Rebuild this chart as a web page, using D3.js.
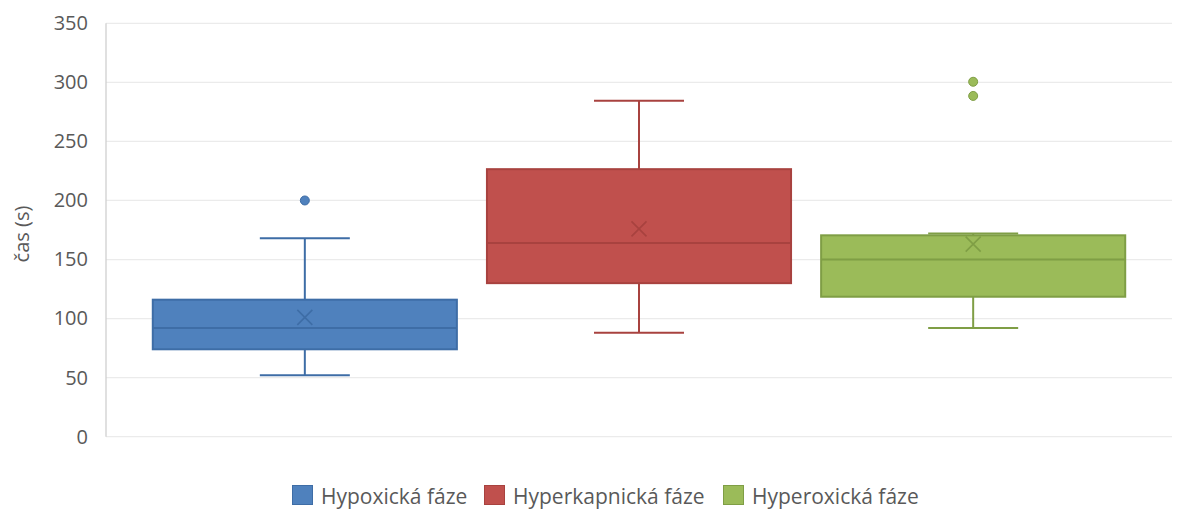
<!DOCTYPE html>
<html><head><meta charset="utf-8">
<script src="https://cdn.jsdelivr.net/npm/d3@7"></script>
<style>body{margin:0;background:#fff}svg{display:block}</style>
</head><body>
<svg id="c" width="1182" height="509"></svg>
<script>
const series = ["Hypoxická fáze","Hyperkapnická fáze","Hyperoxická fáze"];
const fills = ["#4F81BD","#C0504D","#9BBB59"];
const strokes = ["#3E6DA6","#A8423F","#7F9E45"];
const whiskerLow = [52, 88, 92];
const q1 = [74, 130, 118.5];
const median = [92, 164, 150];
const q3 = [116, 226.5, 170.5];
const whiskerHigh = [168, 284.5, 172];
const means = [101, 176, 163];
const outliers = [[200], [], [300.5, 288.5]];
const yTicks = [0,50,100,150,200,250,300,350];
const yTitle = "čas (s)";

const svg = d3.select("#c");
const font = "'Open Sans', sans-serif";
const L = 106, R = 1172, T = 23.3, B = 436.7;
const y = d3.scaleLinear().domain([0,350]).range([B,T]);
const x = d3.scaleBand().domain(series).range([L,R]).paddingInner(0.09).paddingOuter(0.14);

// gridlines
svg.append("g").selectAll("line").data(yTicks).join("line")
  .attr("x1",L).attr("x2",R).attr("y1",d=>y(d)).attr("y2",d=>y(d))
  .attr("stroke","#ebebeb").attr("stroke-width",1.3);
// left axis line
svg.append("line").attr("x1",L).attr("x2",L).attr("y1",T).attr("y2",B).attr("stroke","#d0d0d0").attr("stroke-width",1.3);

// y axis
const ya = svg.append("g").attr("transform",`translate(${L},0)`)
  .call(d3.axisLeft(y).tickValues(yTicks).tickSize(0).tickPadding(18));
ya.select(".domain").remove();
ya.selectAll("text").attr("font-family",font).attr("font-size",20).attr("fill","#595959");

svg.append("text").attr("transform","translate(29,234) rotate(-90)")
  .attr("text-anchor","middle").attr("font-family",font).attr("font-size",20).attr("fill","#595959").text(yTitle);

const capHalf = 45;
series.forEach((s,i)=>{
  const g = svg.append("g");
  const x0 = x(s), w = x.bandwidth(), cx = x0 + w/2;
  // whiskers
  g.append("line").attr("x1",cx).attr("x2",cx).attr("y1",y(q3[i])).attr("y2",y(whiskerHigh[i])).attr("stroke",strokes[i]).attr("stroke-width",2);
  g.append("line").attr("x1",cx).attr("x2",cx).attr("y1",y(q1[i])).attr("y2",y(whiskerLow[i])).attr("stroke",strokes[i]).attr("stroke-width",2);
  g.append("line").attr("x1",cx-capHalf).attr("x2",cx+capHalf).attr("y1",y(whiskerHigh[i])).attr("y2",y(whiskerHigh[i])).attr("stroke",strokes[i]).attr("stroke-width",2);
  g.append("line").attr("x1",cx-capHalf).attr("x2",cx+capHalf).attr("y1",y(whiskerLow[i])).attr("y2",y(whiskerLow[i])).attr("stroke",strokes[i]).attr("stroke-width",2);
  // box
  g.append("rect").attr("x",x0).attr("width",w).attr("y",y(q3[i])).attr("height",y(q1[i])-y(q3[i]))
    .attr("fill",fills[i]).attr("stroke",strokes[i]).attr("stroke-width",2);
  g.append("line").attr("x1",x0).attr("x2",x0+w).attr("y1",y(median[i])).attr("y2",y(median[i])).attr("stroke",strokes[i]).attr("stroke-width",2);
  // mean x
  const my = y(means[i]), m = 7.5;
  g.append("path").attr("d",`M${cx-m},${my-m}L${cx+m},${my+m}M${cx-m},${my+m}L${cx+m},${my-m}`)
    .attr("stroke",strokes[i]).attr("stroke-width",1.6).attr("fill","none");
  // outliers
  g.selectAll("circle").data(outliers[i]).join("circle").attr("cx",cx).attr("cy",d=>y(d)).attr("r",4.5)
    .attr("fill",fills[i]).attr("stroke",strokes[i]).attr("stroke-width",1);
});

// legend
const legX = [292, 484, 723];
const lg = svg.append("g");
series.forEach((s,i)=>{
  lg.append("rect").attr("x",legX[i]+0.5).attr("y",485.5).attr("width",20).attr("height",19)
    .attr("fill",fills[i]).attr("stroke",strokes[i]).attr("stroke-width",1);
  lg.append("text").attr("x",legX[i]+29).attr("y",504).attr("font-family",font).attr("font-size",21).attr("fill","#595959").text(s);
});
</script>
</body></html>
